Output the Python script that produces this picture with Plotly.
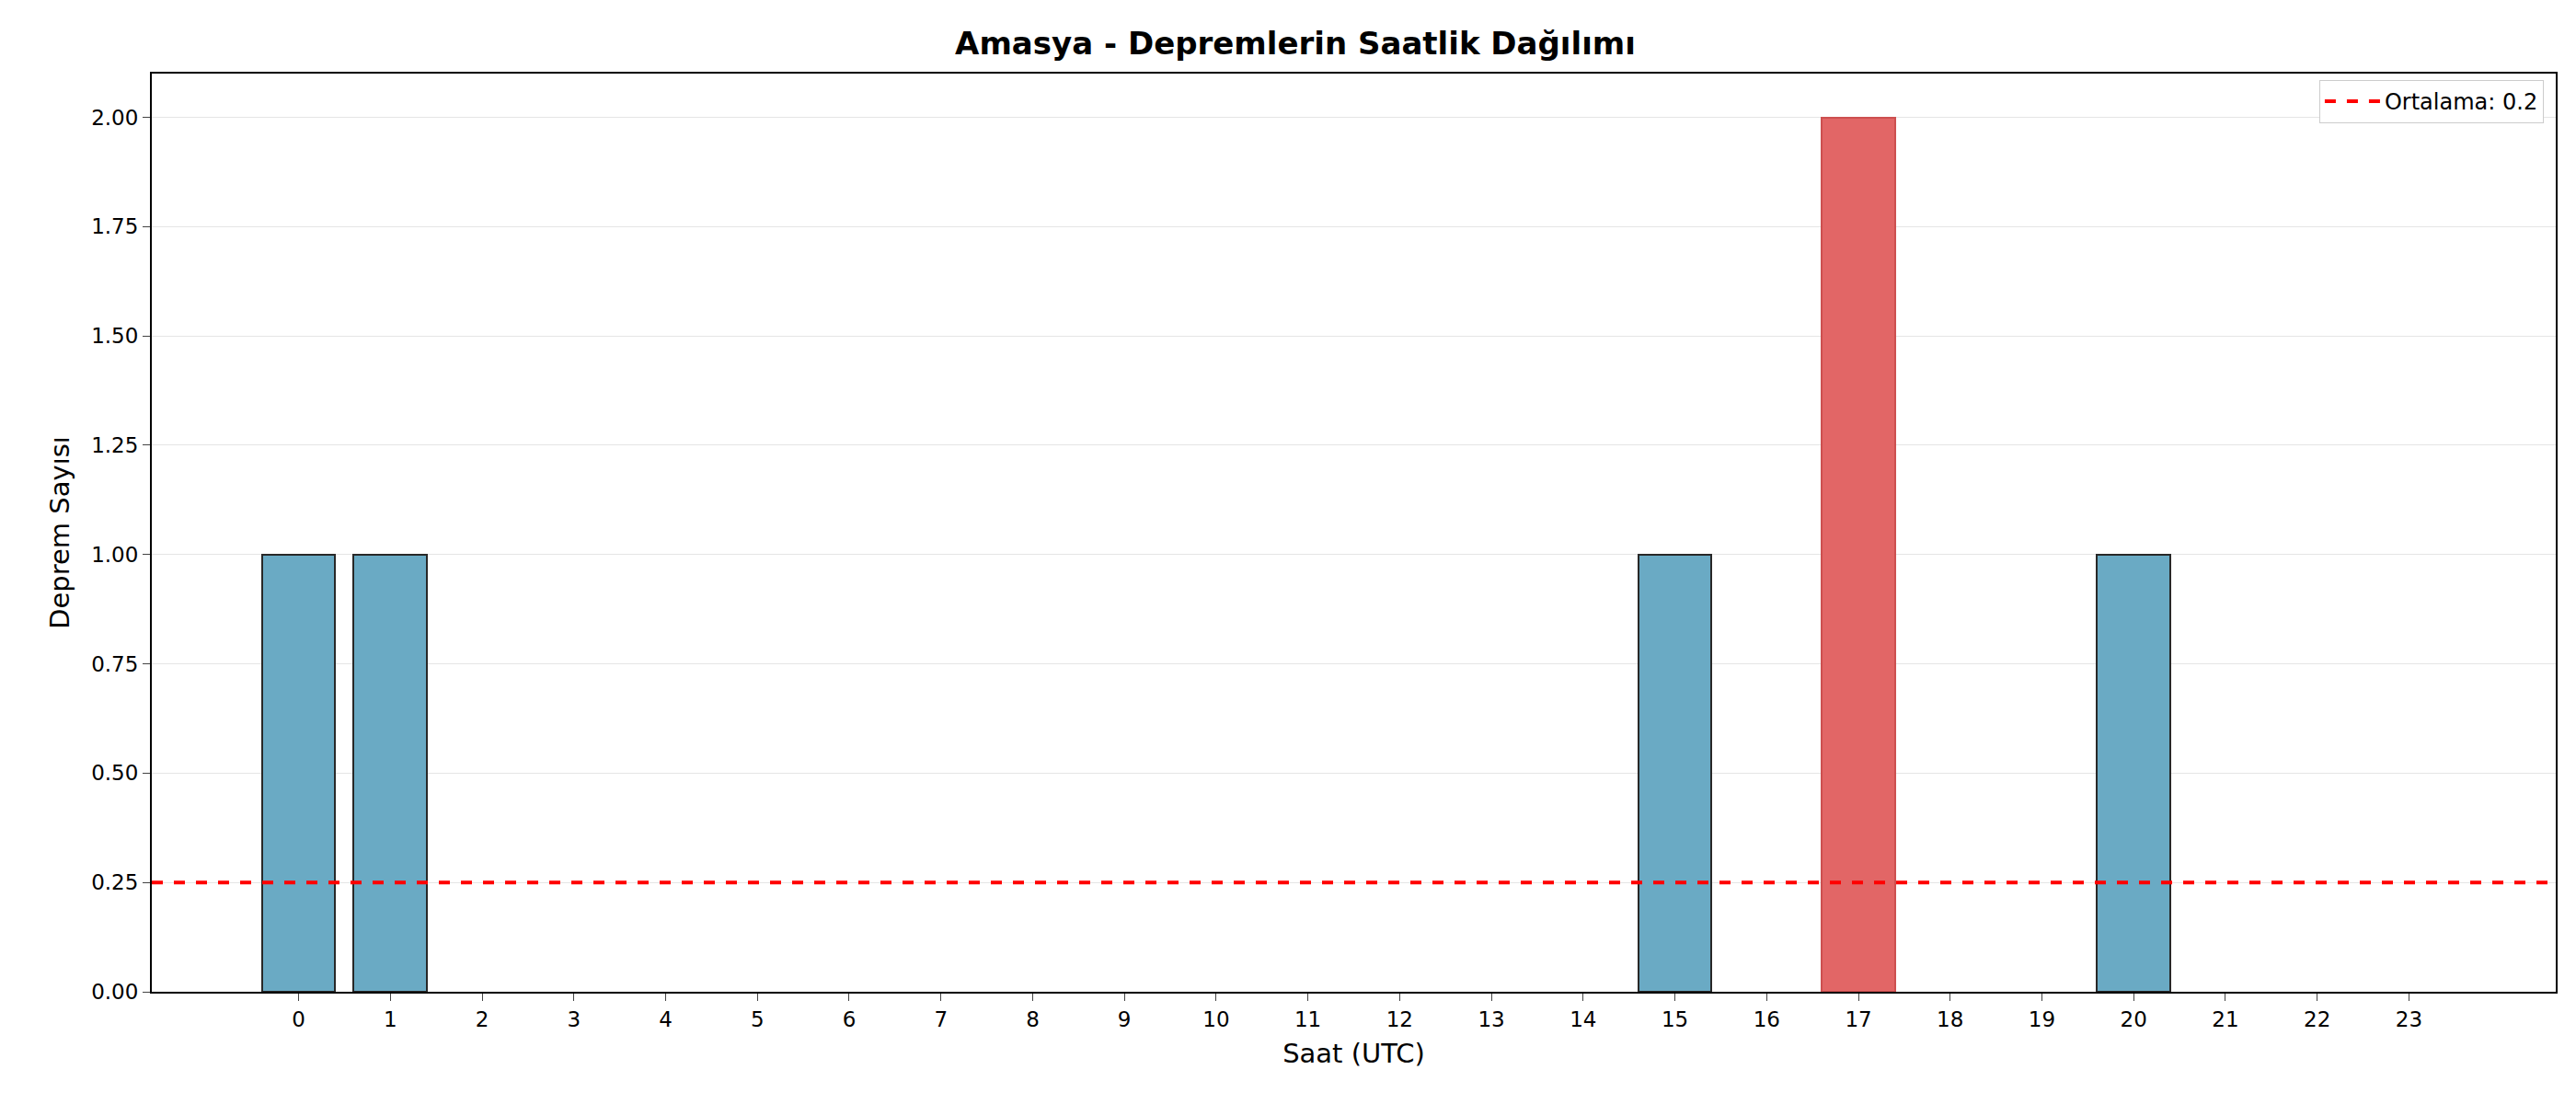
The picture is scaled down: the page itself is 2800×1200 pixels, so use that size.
import plotly.graph_objects as go

hours = list(range(24))
counts = [1,1,0,0,0,0,0,0,0,0,0,0,0,0,0,1,0,2,0,0,1,0,0,0]
mean_val = sum(counts)/len(counts)
mx = max(counts)

colors = ["rgb(226,102,102)" if c == mx else "rgb(106,170,196)" for c in counts]
lines = ["rgb(205,80,80)" if c == mx else ("rgb(40,40,40)" if c > 0 else "rgba(0,0,0,0)") for c in counts]

fig = go.Figure()
fig.add_trace(go.Bar(x=hours, y=counts, width=0.8, marker=dict(color=colors, line=dict(color=lines, width=2)),
                     showlegend=False))
fig.add_trace(go.Scatter(x=[-1.6, 24.6], y=[mean_val, mean_val], mode="lines",
                         line=dict(color="red", width=4, dash="dash"),
                         name=f"Ortalama: {mean_val:.1f}"))
fig.update_layout(
    width=2800, height=1200, paper_bgcolor="white", plot_bgcolor="white",
    margin=dict(l=157, r=30, t=72, b=130),
    font=dict(family="DejaVu Sans", size=22, color="black"),
    title=dict(text="<b>Amasya - Depremlerin Saatlik Dağılımı</b>", x=0.5, xanchor="center", y=0.977, font=dict(size=34)),
    legend=dict(x=0.995, y=0.993, xanchor="right", yanchor="top", bordercolor="#cccccc", borderwidth=1,
                font=dict(size=24), itemwidth=60),
    bargap=0,
)
fig.update_xaxes(range=[-1.6, 24.6], tickmode="array", tickvals=hours, ticktext=[str(h) for h in hours],
                 showline=True, linecolor="black", linewidth=2, mirror=True, ticks="outside", ticklen=8,
                 showgrid=False, title=dict(text="Saat (UTC)", font=dict(size=29)), zeroline=False,
                 tickfont=dict(size=23))
fig.update_yaxes(range=[0, 2.1], tickmode="array", tickvals=[0,0.25,0.5,0.75,1,1.25,1.5,1.75,2],
                 tickformat=".2f", showline=True, linecolor="black", linewidth=2, mirror=True, ticks="outside",
                 ticklen=8, gridcolor="rgba(0,0,0,0.1)", title=dict(text="Deprem Sayısı", font=dict(size=29)),
                 zeroline=False, tickfont=dict(size=23))
fig.write_html("out.html")
